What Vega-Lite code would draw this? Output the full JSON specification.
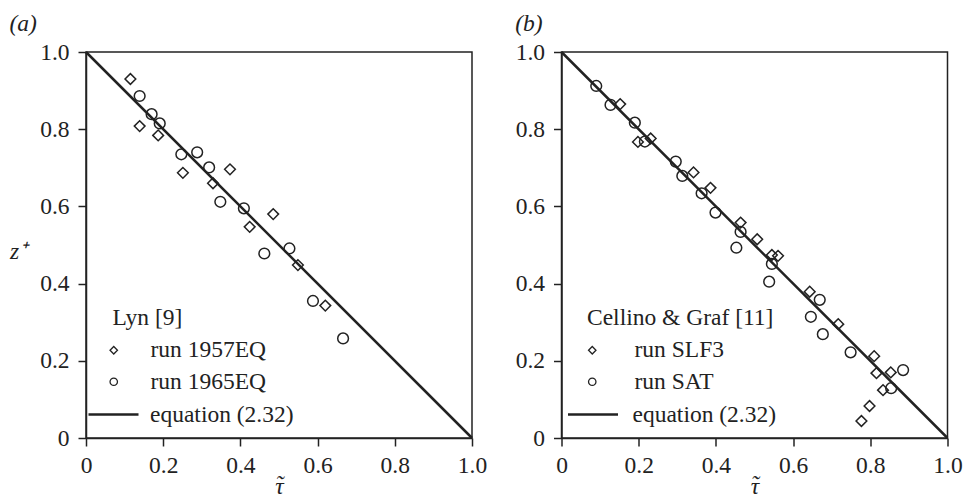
{
  "$schema": "https://vega.github.io/schema/vega-lite/v6.json",
  "background": "white",
  "padding": {"left": 8, "top": 10, "right": 0, "bottom": 0},
  "autosize": {"type": "pad"},
  "spacing": 25.5,
  "datasets": {
    "eq": [{"tau": 0, "z": 1, "curve": "equation (2.32)"}, {"tau": 1, "z": 0, "curve": "equation (2.32)"}],
    "lyn": [
      {"tau": 0.115, "z": 0.93, "run": "run 1957EQ"},
      {"tau": 0.139, "z": 0.808, "run": "run 1957EQ"},
      {"tau": 0.187, "z": 0.784, "run": "run 1957EQ"},
      {"tau": 0.251, "z": 0.687, "run": "run 1957EQ"},
      {"tau": 0.329, "z": 0.66, "run": "run 1957EQ"},
      {"tau": 0.373, "z": 0.696, "run": "run 1957EQ"},
      {"tau": 0.424, "z": 0.547, "run": "run 1957EQ"},
      {"tau": 0.485, "z": 0.58, "run": "run 1957EQ"},
      {"tau": 0.549, "z": 0.448, "run": "run 1957EQ"},
      {"tau": 0.62, "z": 0.343, "run": "run 1957EQ"},
      {"tau": 0.139, "z": 0.886, "run": "run 1965EQ"},
      {"tau": 0.17, "z": 0.839, "run": "run 1965EQ"},
      {"tau": 0.191, "z": 0.815, "run": "run 1965EQ"},
      {"tau": 0.247, "z": 0.735, "run": "run 1965EQ"},
      {"tau": 0.288, "z": 0.74, "run": "run 1965EQ"},
      {"tau": 0.319, "z": 0.701, "run": "run 1965EQ"},
      {"tau": 0.348, "z": 0.612, "run": "run 1965EQ"},
      {"tau": 0.409, "z": 0.595, "run": "run 1965EQ"},
      {"tau": 0.462, "z": 0.478, "run": "run 1965EQ"},
      {"tau": 0.527, "z": 0.491, "run": "run 1965EQ"},
      {"tau": 0.588, "z": 0.355, "run": "run 1965EQ"},
      {"tau": 0.666, "z": 0.258, "run": "run 1965EQ"}
    ],
    "cg": [
      {"tau": 0.152, "z": 0.865, "run": "run SLF3"},
      {"tau": 0.198, "z": 0.767, "run": "run SLF3"},
      {"tau": 0.231, "z": 0.776, "run": "run SLF3"},
      {"tau": 0.342, "z": 0.688, "run": "run SLF3"},
      {"tau": 0.386, "z": 0.648, "run": "run SLF3"},
      {"tau": 0.464, "z": 0.558, "run": "run SLF3"},
      {"tau": 0.507, "z": 0.515, "run": "run SLF3"},
      {"tau": 0.545, "z": 0.474, "run": "run SLF3"},
      {"tau": 0.561, "z": 0.472, "run": "run SLF3"},
      {"tau": 0.643, "z": 0.379, "run": "run SLF3"},
      {"tau": 0.717, "z": 0.295, "run": "run SLF3"},
      {"tau": 0.81, "z": 0.212, "run": "run SLF3"},
      {"tau": 0.816, "z": 0.168, "run": "run SLF3"},
      {"tau": 0.853, "z": 0.17, "run": "run SLF3"},
      {"tau": 0.833, "z": 0.124, "run": "run SLF3"},
      {"tau": 0.798, "z": 0.083, "run": "run SLF3"},
      {"tau": 0.777, "z": 0.044, "run": "run SLF3"},
      {"tau": 0.09, "z": 0.912, "run": "run SAT"},
      {"tau": 0.127, "z": 0.863, "run": "run SAT"},
      {"tau": 0.19, "z": 0.817, "run": "run SAT"},
      {"tau": 0.216, "z": 0.768, "run": "run SAT"},
      {"tau": 0.296, "z": 0.716, "run": "run SAT"},
      {"tau": 0.313, "z": 0.679, "run": "run SAT"},
      {"tau": 0.363, "z": 0.634, "run": "run SAT"},
      {"tau": 0.399, "z": 0.584, "run": "run SAT"},
      {"tau": 0.464, "z": 0.534, "run": "run SAT"},
      {"tau": 0.453, "z": 0.493, "run": "run SAT"},
      {"tau": 0.545, "z": 0.451, "run": "run SAT"},
      {"tau": 0.538, "z": 0.405, "run": "run SAT"},
      {"tau": 0.669, "z": 0.358, "run": "run SAT"},
      {"tau": 0.646, "z": 0.314, "run": "run SAT"},
      {"tau": 0.677, "z": 0.269, "run": "run SAT"},
      {"tau": 0.749, "z": 0.222, "run": "run SAT"},
      {"tau": 0.885, "z": 0.176, "run": "run SAT"},
      {"tau": 0.854, "z": 0.129, "run": "run SAT"}
    ]
  },
  "config": {
    "view": {"stroke": "#222", "strokeWidth": 1.5},
    "font": "Liberation Serif",
    "axis": {
      "domainColor": "#222", "domainWidth": 1.5, "tickColor": "#222", "tickWidth": 1.5, "tickSize": 8,
      "labelFont": "Liberation Serif", "labelFontSize": 23.5, "labelColor": "#222",
      "labelOverlap": false, "labelFlush": false, "labelBound": false, "grid": false,
      "titleFont": "Liberation Serif", "titleFontStyle": "italic", "titleFontSize": 23.5,
      "titleFontWeight": "normal", "titleColor": "#222"
    },
    "legend": {
      "labelFont": "Liberation Serif", "labelFontSize": 23.5, "labelColor": "#222", "labelLimit": 400,
      "titleFont": "Liberation Serif", "titleFontSize": 23.5, "titleFontWeight": "normal", "titleColor": "#222", "titleLimit": 400,
      "padding": 0, "rowPadding": 6.5, "symbolStrokeColor": "#222"
    },
    "title": {"font": "Liberation Serif", "fontStyle": "italic", "fontSize": 23.5, "fontWeight": "normal", "color": "#222", "anchor": "start", "frame": "bounds", "offset": 5}
  },
  "resolve": {"scale": {"shape": "independent", "color": "independent"}, "legend": {"shape": "independent", "color": "independent"}},
  "hconcat": [
    {
      "width": 386, "height": 386,
      "title": {"text": "(a)"},
      "layer": [
        {
          "data": {"name": "eq"},
          "mark": {"type": "line", "strokeWidth": 2.5},
          "encoding": {
            "x": {"field": "tau", "type": "quantitative", "scale": {"domain": [0, 1], "nice": false},
              "axis": {"title": ["\u02dc", "\u03c4"], "titleLineHeight": 2, "values": [0, 0.1, 0.2, 0.3, 0.4, 0.5, 0.6, 0.7, 0.8, 0.9, 1], "labelPadding": 7, "titlePadding": -4,
                "labelExpr": "round(datum.value*10)%2==1 ? '' : (datum.value==0 ? '0' : format(datum.value,'.1f'))"}},
            "y": {"field": "z", "type": "quantitative", "scale": {"domain": [0, 1], "nice": false},
              "axis": {"title": "z\u207a", "titleAngle": 0, "titleAlign": "right", "titleBaseline": "middle", "titleY": 199, "titlePadding": 13, "labelPadding": 9,
                "values": [0, 0.1, 0.2, 0.3, 0.4, 0.5, 0.6, 0.7, 0.8, 0.9, 1],
                "labelExpr": "round(datum.value*10)%2==1 ? '' : (datum.value==0 ? '0' : format(datum.value,'.1f'))"}},
            "color": {"field": "curve", "type": "nominal", "scale": {"range": ["#222"]},
              "legend": {"title": null, "orient": "none", "legendX": 1, "legendY": 336, "symbolType": "stroke", "symbolSize": 2500, "symbolStrokeWidth": 2.5, "labelOffset": 10}}
          }
        },
        {
          "data": {"name": "lyn"},
          "mark": {"type": "point", "filled": false, "size": 115, "strokeWidth": 1.5, "color": "#222", "opacity": 1},
          "encoding": {
            "x": {"field": "tau", "type": "quantitative"},
            "y": {"field": "z", "type": "quantitative"},
            "shape": {"field": "run", "type": "nominal", "scale": {"domain": ["run 1957EQ", "run 1965EQ"], "range": ["diamond", "circle"]},
              "legend": {"title": "Lyn [9]", "orient": "none", "legendX": 26.5, "legendY": 254, "symbolSize": 55, "symbolStrokeWidth": 1.3, "symbolOffset": -10.5, "labelOffset": 25, "titlePadding": 9}}
          }
        }
      ]
    },
    {
      "width": 386, "height": 386,
      "title": {"text": "(b)"},
      "layer": [
        {
          "data": {"name": "eq"},
          "mark": {"type": "line", "strokeWidth": 2.5},
          "encoding": {
            "x": {"field": "tau", "type": "quantitative", "scale": {"domain": [0, 1], "nice": false},
              "axis": {"title": ["\u02dc", "\u03c4"], "titleLineHeight": 2, "values": [0, 0.1, 0.2, 0.3, 0.4, 0.5, 0.6, 0.7, 0.8, 0.9, 1], "labelPadding": 7, "titlePadding": -4,
                "labelExpr": "round(datum.value*10)%2==1 ? '' : (datum.value==0 ? '0' : format(datum.value,'.1f'))"}},
            "y": {"field": "z", "type": "quantitative", "scale": {"domain": [0, 1], "nice": false},
              "axis": {"title": null, "labelPadding": 9,
                "values": [0, 0.1, 0.2, 0.3, 0.4, 0.5, 0.6, 0.7, 0.8, 0.9, 1],
                "labelExpr": "round(datum.value*10)%2==1 ? '' : (datum.value==0 ? '0' : format(datum.value,'.1f'))"}},
            "color": {"field": "curve", "type": "nominal", "scale": {"range": ["#222"]},
              "legend": {"title": null, "orient": "none", "legendX": 5, "legendY": 336, "symbolType": "stroke", "symbolSize": 2500, "symbolStrokeWidth": 2.5, "labelOffset": 13}}
          }
        },
        {
          "data": {"name": "cg"},
          "mark": {"type": "point", "filled": false, "size": 115, "strokeWidth": 1.5, "color": "#222", "opacity": 1},
          "encoding": {
            "x": {"field": "tau", "type": "quantitative"},
            "y": {"field": "z", "type": "quantitative"},
            "shape": {"field": "run", "type": "nominal", "scale": {"domain": ["run SLF3", "run SAT"], "range": ["diamond", "circle"]},
              "legend": {"title": "Cellino & Graf [11]", "orient": "none", "legendX": 25.5, "legendY": 254, "symbolSize": 55, "symbolStrokeWidth": 1.3, "symbolOffset": -6.5, "labelOffset": 30.5, "titlePadding": 9}}
          }
        }
      ]
    }
  ]
}
